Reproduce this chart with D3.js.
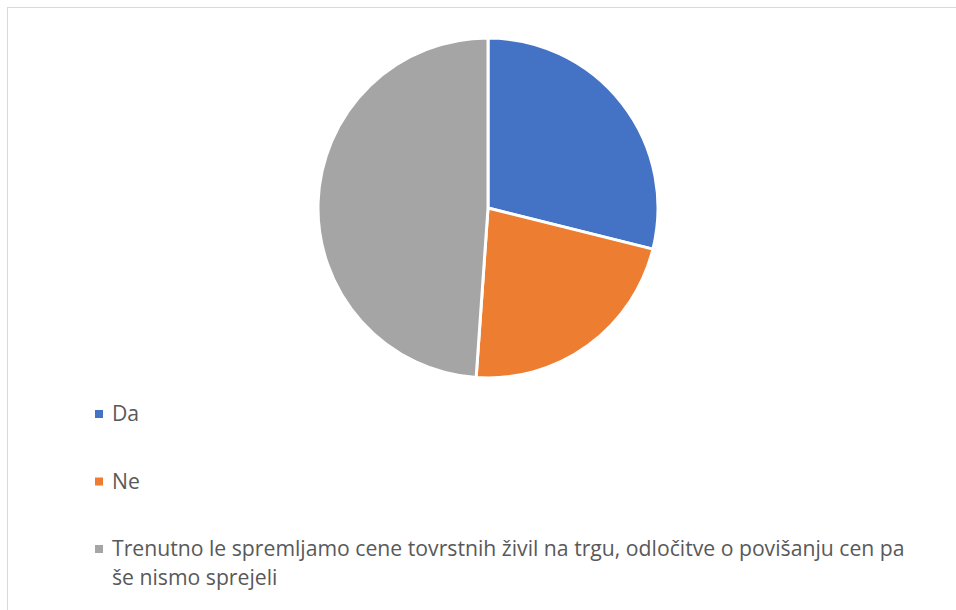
<!DOCTYPE html>
<html>
<head>
<meta charset="utf-8">
<script src="https://cdn.jsdelivr.net/npm/d3@7"></script>
<style>
  body { margin: 0; background: #fff; }
  svg text { font-family: "Open Sans", "Noto Sans", sans-serif; fill: #595959; }
</style>
</head>
<body>
<div id="chart"></div>
<script>
const categories = ['Da', 'Ne', 'Trenutno le spremljamo cene tovrstnih živil na trgu, odločitve o povišanju cen pa še nismo sprejeli'];
const values = [13, 10, 22];
const colors = ['#4472c4', '#ed7d31', '#a5a5a5'];
// legend text split into lines as in the reference
const legendLines = [['Da'], ['Ne'], ['Trenutno le spremljamo cene tovrstnih živil na trgu, odločitve o povišanju cen pa', 'še nismo sprejeli']];

const width = 956, height = 610;
const cx = 488, cy = 208, radius = 170;

const svg = d3.select('#chart').append('svg')
    .attr('width', width)
    .attr('height', height);

// chart area border
svg.append('rect')
    .attr('x', 7.5).attr('y', 7.5)
    .attr('width', width).attr('height', height)
    .attr('fill', 'none')
    .attr('stroke', '#d9d9d9');

const pie = d3.pie().sort(null).value(d => d);
const arc = d3.arc().innerRadius(0).outerRadius(radius);

svg.append('g')
    .attr('transform', `translate(${cx},${cy})`)
    .selectAll('path')
    .data(pie(values))
    .enter()
    .append('path')
    .attr('d', arc)
    .attr('fill', (d, i) => colors[i])
    .attr('stroke', '#fff')
    .attr('stroke-width', 3)
    .attr('stroke-linejoin', 'round');

// legend
const legendY = d3.scalePoint().domain(categories).range([414, 549]);
const legend = svg.append('g');
categories.forEach((c, i) => {
    const y = legendY(c);
    legend.append('rect')
        .attr('x', 95).attr('y', y - 4)
        .attr('width', 8).attr('height', 8)
        .attr('fill', colors[i]);
    const t = legend.append('text')
        .attr('x', 112).attr('y', y + 7)
        .attr('font-size', 21.2);
    legendLines[i].forEach((line, j) => {
        t.append('tspan')
            .attr('x', 112)
            .attr('dy', j === 0 ? 0 : 29)
            .text(line);
    });
});
</script>
</body>
</html>
